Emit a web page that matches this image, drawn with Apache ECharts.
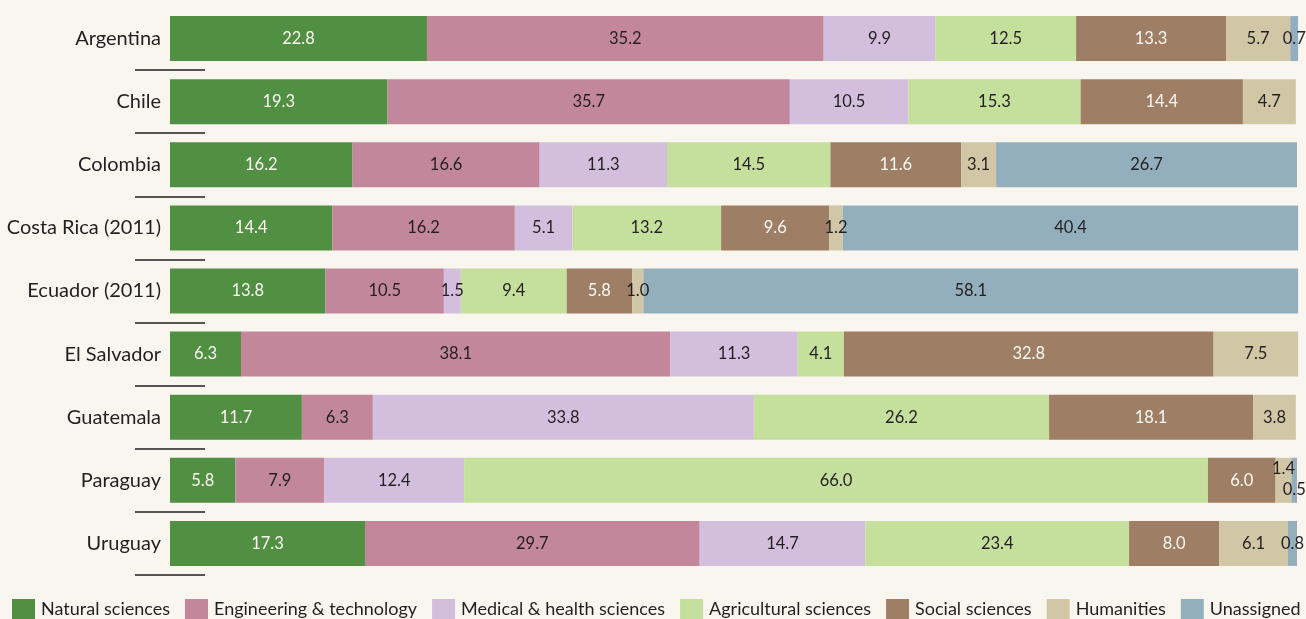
<!DOCTYPE html>
<html>
<head>
<meta charset="utf-8">
<script src="https://cdn.jsdelivr.net/npm/echarts@6/dist/echarts.min.js"></script>
<style>
  html, body { margin: 0; padding: 0; background: #f9f6f0; }
  #chart { width: 1306px; height: 619px; }
</style>
</head>
<body>
<div id="chart"></div>
<script>
const countries = ['Argentina', 'Chile', 'Colombia', 'Costa Rica (2011)', 'Ecuador (2011)',
  'El Salvador', 'Guatemala', 'Paraguay', 'Uruguay'];

const fields = ['Natural sciences', 'Engineering & technology', 'Medical & health sciences',
  'Agricultural sciences', 'Social sciences', 'Humanities', 'Unassigned'];

const natural      = [22.8, 19.3, 16.2, 14.4, 13.8, 6.3, 11.7, 5.8, 17.3];
const engineering  = [35.2, 35.7, 16.6, 16.2, 10.5, 38.1, 6.3, 7.9, 29.7];
const medical      = [9.9, 10.5, 11.3, 5.1, 1.5, 11.3, 33.8, 12.4, 14.7];
const agricultural = [12.5, 15.3, 14.5, 13.2, 9.4, 4.1, 26.2, 66.0, 23.4];
const social       = [13.3, 14.4, 11.6, 9.6, 5.8, 32.8, 18.1, 6.0, 8.0];
const humanities   = [5.7, 4.7, 3.1, 1.2, 1.0, 7.5, 3.8, 1.4, 6.1];
const unassigned   = [0.7, 0, 26.7, 40.4, 58.1, 0, 0, 0.5, 0.8];

const values = [natural, engineering, medical, agricultural, social, humanities, unassigned];
const colors = ['#518f42', '#c3879b', '#d4bedd', '#c5df9d', '#9e7f66', '#d1c6a6', '#93afbd'];
const labelColors = ['#fbf8f2', '#231f20', '#231f20', '#231f20', '#fbf8f2', '#231f20', '#231f20'];

const FONT = 'Lato';

const chart = echarts.init(document.getElementById('chart'));

const series = fields.map(function (name, s) {
  return {
    name: name,
    type: 'bar',
    stack: 'total',
    barWidth: 45,
    clip: false,
    itemStyle: { color: colors[s] },
    label: {
      show: true,
      position: 'inside',
      color: labelColors[s],
      fontFamily: FONT,
      fontSize: 16.5,
      formatter: function (p) { return p.value > 0 ? p.value.toFixed(1) : ''; }
    },
    data: values[s].map(function (v, i) {
      const item = { value: v };
      // Paraguay: tiny slivers, labels pushed above/below
      if (i === 7 && s === 5) item.label = { offset: [0, -12] };
      if (i === 7 && s === 6) item.label = { offset: [0, 9] };
      return item;
    })
  };
});

const tickStyle = { show: true, length: 35, lineStyle: { color: '#231f20', width: 1.5 },
  interval: function (index) { return index > 0; } };

chart.setOption({
  backgroundColor: '#f9f6f0',
  animation: false,
  grid: { left: 170, right: 9, top: 7, bottom: 44 },
  xAxis: { type: 'value', min: 0, max: 100, show: false },
  yAxis: [{
    type: 'category',
    data: countries,
    inverse: true,
    axisLine: { show: false },
    axisTick: tickStyle,
    axisLabel: { color: '#231f20', fontFamily: FONT, fontSize: 20, margin: 9 }
  }, {
    type: 'category',
    data: countries,
    inverse: true,
    position: 'left',
    axisLine: { show: false },
    axisTick: Object.assign({}, tickStyle, { inside: true }),
    axisLabel: { show: false }
  }],
  legend: {
    left: 12,
    top: 599,
    padding: 0,
    itemWidth: 23,
    itemHeight: 20,
    itemGap: 15,
    icon: 'rect',
    textStyle: { color: '#231f20', fontFamily: FONT, fontSize: 18, padding: [0, 0, 0, 1] },
    data: fields
  },
  series: series
});
</script>
</body>
</html>
